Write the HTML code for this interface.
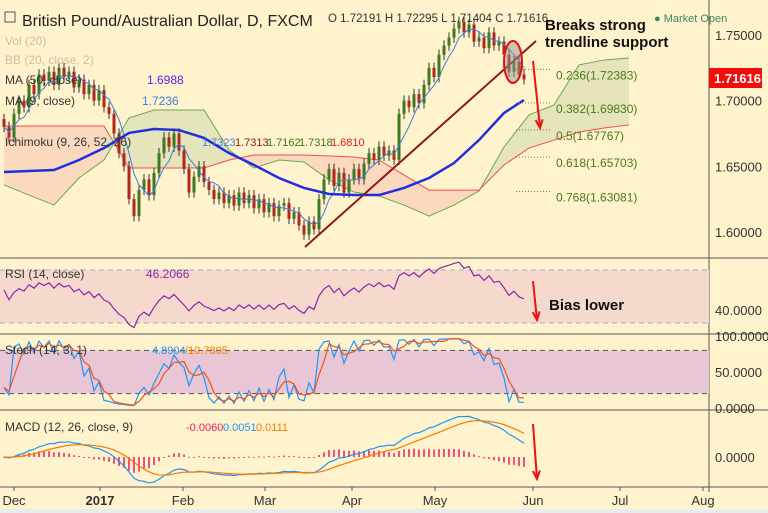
<!DOCTYPE html>
<html><head><meta charset="utf-8"><style>
html,body{margin:0;padding:0;background:#fff3cd;}
svg{display:block;font-family:"Liberation Sans",sans-serif;}
</style></head><body>
<svg id="c" width="768" height="513" viewBox="0 0 768 513">
<rect x="0" y="0" width="768" height="513" fill="#fff3cd"/>
<rect x="0" y="509" width="768" height="4" fill="#e9ecef"/>
<g id="grid"></g>
<g id="cloud"></g>
<g id="main"></g>
<g id="ind"></g>
<g id="ann"></g>
<g id="txt"></g>
</svg>
<script>
const closes=[1.680,1.672,1.690,1.700,1.695,1.712,1.705,1.720,1.715,1.722,1.712,1.725,1.718,1.722,1.710,1.716,1.705,1.712,1.700,1.708,1.695,1.690,1.675,1.660,1.650,1.625,1.612,1.632,1.640,1.628,1.645,1.660,1.672,1.665,1.675,1.662,1.648,1.630,1.642,1.650,1.638,1.632,1.625,1.630,1.622,1.628,1.620,1.630,1.622,1.628,1.618,1.625,1.615,1.622,1.612,1.620,1.622,1.610,1.615,1.605,1.598,1.608,1.602,1.625,1.640,1.648,1.635,1.645,1.630,1.640,1.648,1.640,1.652,1.660,1.655,1.665,1.658,1.662,1.655,1.690,1.700,1.695,1.705,1.698,1.712,1.725,1.718,1.735,1.742,1.748,1.755,1.760,1.752,1.758,1.745,1.748,1.740,1.752,1.742,1.745,1.735,1.722,1.730,1.720,1.71616];
const cloudBars=[0,5,10,15,20,25,30,35,40,45,50,55,60,65,70,75,80,85,90,95,100,105,110,115,120,125];
const spanA=[1.6358,1.6281,1.6205,1.6411,1.6548,1.6868,1.6929,1.6929,1.6929,1.6624,1.6487,1.6548,1.6533,1.6396,1.6304,1.6274,1.6205,1.6121,1.6205,1.6312,1.6647,1.6891,1.6967,1.7272,1.7310,1.7325];
const spanB=[1.6807,1.6807,1.6807,1.6807,1.6807,1.6487,1.6487,1.6487,1.6487,1.6548,1.6586,1.6586,1.6586,1.6578,1.6571,1.6548,1.6434,1.6319,1.6319,1.6319,1.6510,1.6639,1.6700,1.6761,1.6792,1.6815];
const maBars=[0,5,10,15,20,25,30,35,40,45,50,55,60,65,70,75,80,85,90,95,100,104];
const ma50=[1.6457,1.6464,1.6472,1.6548,1.6639,1.6754,1.6784,1.6776,1.6716,1.6601,1.6510,1.6411,1.6335,1.6289,1.6281,1.6281,1.6335,1.6411,1.6525,1.6700,1.6906,1.7005];
const priceTicks=[1.75,1.70,1.65,1.60];
const fibLevels=[0.236,0.382,0.5,0.618,0.768];
const fibPrices=[1.72383,1.69830,1.67767,1.65703,1.63081];
const monthLabels=["Dec","2017","Feb","Mar","Apr","May","Jun","Jul","Aug"];
const monthBars=[2,19.2,35.8,52.2,69.6,86.2,105.8,123.2,139.8];

const NS="http://www.w3.org/2000/svg";
function mk(tag,attrs,parent){const e=document.createElementNS(NS,tag);for(const k in attrs)e.setAttribute(k,attrs[k]);parent.appendChild(e);return e;}
const xB=i=>4+5*i;
const yP=p=>35+(1.75-p)*1313;
const G=id=>document.getElementById(id);
const grid=G('grid'),cloud=G('cloud'),main=G('main'),ind=G('ind'),ann=G('ann'),txt=G('txt');

[[258],[334],[410],[487]].forEach(([y])=>{const l=mk('line',{x1:0,x2:768,y1:y,y2:y,stroke:'#555','stroke-width':1},grid);

});
let ax=mk('line',{x1:709,x2:709,y1:0,y2:492,stroke:'#555','stroke-width':1},grid);



for(let k=0;k<cloudBars.length-1;k++){
  const x1=xB(cloudBars[k]),x2=xB(cloudBars[k+1]);
  const a1=yP(spanA[k]),a2=yP(spanA[k+1]),b1=yP(spanB[k]),b2=yP(spanB[k+1]);
  const bull=(spanA[k]+spanA[k+1])>(spanB[k]+spanB[k+1]);
  const q=mk('polygon',{points:`${x1},${a1} ${x2},${a2} ${x2},${b2} ${x1},${b1}`,fill:bull?'#e2e2b8':'#f9d6bc',opacity:0.9},cloud);
  
  
}
let pa=mk('polyline',{points:cloudBars.map((b,i)=>xB(b)+','+yP(spanA[i])).join(' '),fill:'none',stroke:'#6aa84f','stroke-width':1},cloud);


let pb=mk('polyline',{points:cloudBars.map((b,i)=>xB(b)+','+yP(spanB[i])).join(' '),fill:'none',stroke:'#f0504a','stroke-width':1},cloud);



const opens=closes.map((c,i)=>i?closes[i-1]:c+0.006);
const highs=closes.map((c,i)=>Math.max(c,opens[i])+0.004);
const lows=closes.map((c,i)=>Math.min(c,opens[i])-0.004);
closes.forEach((c,i)=>{
  const o=opens[i],x=xB(i),up=c>=o,col=up?'#3b7a1e':'#b3261e';
  const w=mk('line',{x1:x,x2:x,y1:yP(highs[i]),y2:yP(lows[i]),stroke:'#333','stroke-width':1},main);
  
  
  const r=mk('rect',{x:x-1.5,y:yP(Math.max(o,c)),width:3,height:Math.max(1,Math.abs(yP(o)-yP(c))),fill:col},main);
  
  
});
const fast=closes.map((c,i)=>{const s=closes.slice(Math.max(0,i-4),i+1);return s.reduce((a,b)=>a+b,0)/s.length;});
let fm=mk('polyline',{points:fast.map((v,i)=>xB(i)+','+yP(v)).join(' '),fill:'none',stroke:'#3d7fd9','stroke-width':1},main);


let m5=mk('polyline',{points:maBars.map((b,i)=>xB(b)+','+yP(ma50[i])).join(' '),fill:'none',stroke:'#1f2fe0','stroke-width':2.5},main);



let tl=mk('line',{x1:305,y1:247,x2:536,y2:41,stroke:'#8b1a1a','stroke-width':2},ann);


fibPrices.forEach((p,i)=>{
  const y=yP(p);
  const l=mk('line',{x1:516,x2:552,y1:y,y2:y,stroke:'#6a8a3a','stroke-width':1,'stroke-dasharray':'1,2'},ann);
  
  
  const t=mk('text',{x:556,y:y+10,'font-size':12,fill:'#4a7a1f'},ann);
  t.textContent=fibLevels[i]+'('+p.toFixed(5)+')';
  
  
});
let el=mk('ellipse',{cx:513,cy:62,rx:9,ry:21,fill:'rgba(150,150,150,0.5)',stroke:'#e01010','stroke-width':2},ann);


function arrow(x1,y1,x2,y2,name){
  const g=mk('g',{stroke:'#ee1111','stroke-width':2,fill:'none'},ann);
  
  
  mk('line',{x1,y1,x2,y2},g);
  const a=Math.atan2(y2-y1,x2-x1),L=9;
  mk('polyline',{points:`${x2-L*Math.cos(a-0.4)},${y2-L*Math.sin(a-0.4)} ${x2},${y2} ${x2-L*Math.cos(a+0.4)},${y2-L*Math.sin(a+0.4)}`},g);
}
arrow(533,61,540,128,'price-arrow');
arrow(533,281,537,320,'rsi-arrow');
arrow(533,424,537,479,'macd-arrow');

priceTicks.forEach(p=>{const t=mk('text',{x:715,y:yP(p)+5,'font-size':13,fill:'#333'},txt);t.textContent=p.toFixed(5);

});
let tag=mk('rect',{x:709,y:68,width:53,height:20,fill:'#f20d0d'},txt);


let tt=mk('text',{x:714,y:83,'font-size':13,'font-weight':'bold',fill:'#fff'},txt);tt.textContent='1.71616';



const yR=v=>323-(v-30)*53/40;
let rb=mk('rect',{x:0,y:270,width:709,height:53,fill:'#f5d9cc'},ind);


[270,323].forEach(y=>{const l=mk('line',{x1:0,x2:709,y1:y,y2:y,stroke:'#a9a9c9','stroke-dasharray':'5,4'},ind);

});
const rsi=[];let ag=0,al=0;
closes.forEach((c,i)=>{if(!i){rsi.push(55);return;}const d=c-closes[i-1];const g=Math.max(d,0),l=Math.max(-d,0);
 if(i===1){ag=0.006;al=0.006;}ag=(ag*13+g)/14;al=(al*13+l)/14;rsi.push(100-100/(1+ag/(al||1e-9)));});
let rl=mk('polyline',{points:rsi.map((v,i)=>xB(i)+','+Math.max(262,Math.min(331,yR(v)))).join(' '),fill:'none',stroke:'#8e24aa','stroke-width':1.2},ind);


let r40=mk('text',{x:715,y:yR(40)+5,'font-size':13,fill:'#333'},txt);r40.textContent='40.0000';



const yS=v=>408-v*0.72;
let sb=mk('rect',{x:0,y:yS(80),width:709,height:yS(20)-yS(80),fill:'#e8c6d5'},ind);


[80,20].forEach(v=>{const l=mk('line',{x1:0,x2:709,y1:yS(v),y2:yS(v),stroke:'#555','stroke-dasharray':'5,4'},ind);

});
const k=closes.map((c,i)=>{const s=Math.max(0,i-13);const hh=Math.max(...highs.slice(s,i+1)),ll=Math.min(...lows.slice(s,i+1));return 100*(c-ll)/(hh-ll);});
const d=k.map((v,i)=>{const s=k.slice(Math.max(0,i-2),i+1);return s.reduce((a,b)=>a+b,0)/s.length;});
let sk=mk('polyline',{points:k.map((v,i)=>xB(i)+','+yS(v)).join(' '),fill:'none',stroke:'#2196f3','stroke-width':1.2},ind);


let sd=mk('polyline',{points:d.map((v,i)=>xB(i)+','+yS(v)).join(' '),fill:'none',stroke:'#f4511e','stroke-width':1.2},ind);


[[100,'100.0000'],[50,'50.0000'],[0,'0.0000']].forEach(([v,s])=>{const t=mk('text',{x:715,y:yS(v)+5,'font-size':13,fill:'#333'},txt);t.textContent=s;

});

const yM=v=>457-v*1400;
const ema=(arr,n)=>{const a=2/(n+1);let e=arr[0];return arr.map(v=>e=a*v+(1-a)*e);};
const e12=ema(closes,12),e26=ema(closes,26);
const macd=e12.map((v,i)=>v-e26[i]);const sig=ema(macd,9);
macd.forEach((v,i)=>{const h=v-sig[i];const r=mk('rect',{x:xB(i)-0.75,y:Math.min(yM(h),457),width:1.5,height:Math.max(1,Math.abs(yM(h)-457)),fill:'#e91e63'},ind);

});
let ml=mk('polyline',{points:macd.map((v,i)=>xB(i)+','+yM(v)).join(' '),fill:'none',stroke:'#2196f3','stroke-width':1.2},ind);


let sl=mk('polyline',{points:sig.map((v,i)=>xB(i)+','+yM(v)).join(' '),fill:'none',stroke:'#f57c00','stroke-width':1.2},ind);


let m0=mk('text',{x:715,y:462,'font-size':13,fill:'#333'},txt);m0.textContent='0.0000';



monthLabels.forEach((m,i)=>{const x=xB(monthBars[i]);
 const tk=mk('line',{x1:x,x2:x,y1:487,y2:491,stroke:'#555'},txt);
 
 
 const t=mk('text',{x:x,y:505,'font-size':13,fill:'#333','text-anchor':'middle','font-weight':m==='2017'?'bold':'normal'},txt);t.textContent=m;
 
 });

function T(x,y,s,size,fill,name,extra){const t=mk('text',Object.assign({x,y,'font-size':size,fill},extra||{}),txt);t.textContent=s;
 
 return t;}
let box=mk('rect',{x:5,y:12,width:10,height:10,fill:'none',stroke:'#555'},txt);


T(22,26,'British Pound/Australian Dollar, D, FXCM',16,'#222','chart-title');
T(328,22,'O 1.72191  H 1.72295  L 1.71404  C 1.71616',11.5,'#333','ohlc-values');
T(5,45,'Vol (20)',12,'#c9c2a6','vol-legend');
T(5,64,'BB (20, close, 2)',12,'#c9c2a6','bb-legend');
T(5,84,'MA (50, close)',12,'#333','ma50-legend');
T(147,84,'1.6988',12,'#6a1be8','ma50-value');
T(5,105,'MA (9, close)',12,'#333','ma9-legend');
T(142,105,'1.7236',12,'#3d7fd9','ma9-value');
T(5,146,'Ichimoku (9, 26, 52, 26)',12,'#333','ichimoku-legend');
T(202,146,'1.7323',11,'#3d7fd9','ichimoku-v1');
T(235,146,'1.7313',11,'#8b1a1a','ichimoku-v2');
T(267,146,'1.7162',11,'#3b7a1e','ichimoku-v3');
T(299,146,'1.7318',11,'#3b7a1e','ichimoku-v4');
T(331,146,'1.6810',11,'#e02020','ichimoku-v5');
T(545,30,'Breaks strong',15,'#111','annotation-breaks',{'font-weight':'bold'});
T(545,47,'trendline support',15,'#111','annotation-trendline',{'font-weight':'bold'});
T(549,310,'Bias lower',15,'#111','annotation-bias',{'font-weight':'bold'});
T(654,22,'● Market Open',11,'#3a8a5a','market-open');
T(5,278,'RSI (14, close)',12,'#333','rsi-legend');
T(146,278,'46.2066',12,'#8e24aa','rsi-value');
T(5,354,'Stoch (14, 3, 1)',12,'#333','stoch-legend');
T(152,354,'4.8904',11,'#2196f3','stoch-k-value');
T(185,354,'/10.7805',11,'#f57c00','stoch-d-value');
T(5,431,'MACD (12, 26, close, 9)',12,'#333','macd-legend');
T(186,431,'-0.0060',11,'#e91e63','macd-hist-value');
T(223,431,'0.0051',11,'#2196f3','macd-value');
T(256,431,'0.0111',11,'#f57c00','macd-signal-value');
</script>
</body></html>
